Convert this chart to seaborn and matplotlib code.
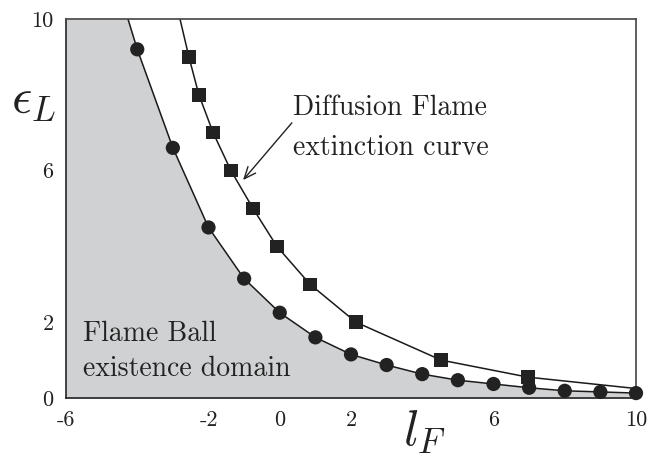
import matplotlib
matplotlib.use("Agg")
import matplotlib.pyplot as plt
import seaborn as sns
import pandas as pd

# Flame ball existence boundary (circles)
fb_lf = [-4, -3, -2, -1, 0, 1, 2, 3, 4, 5, 6, 7, 8, 9, 10]
fb_eps = [9.2, 6.6, 4.5, 3.15, 2.25, 1.6, 1.15, 0.87, 0.63, 0.47, 0.37, 0.27, 0.19, 0.16, 0.13]
# Diffusion flame extinction curve (squares)
df_lf = [-2.55, -2.27, -1.87, -1.37, -0.75, -0.08, 0.85, 2.14, 4.53, 6.97]
df_eps = [9.0, 8.0, 7.0, 6.0, 5.0, 4.0, 3.0, 2.0, 1.0, 0.55]
# curve ends read where the lines leave the frame
fb_curve_lf = [-4.26] + fb_lf
fb_curve_eps = [10.0] + fb_eps
df_curve_lf = [-2.8] + df_lf + [10.0]
df_curve_eps = [10.0] + df_eps + [0.25]

xticks = [-6, -2, 0, 2, 6, 10]
yticks = [0, 2, 6, 10]

sns.set_theme(style="white")
plt.rcParams["font.family"] = ["cmr10", "DejaVu Serif"]
plt.rcParams["mathtext.fontset"] = "cm"

fig = plt.figure(figsize=(6.5, 4.59), dpi=100)
ax = fig.add_axes([66/650, 1-398/459, 570/650, 379/459])

fill_x = [-6.0] + fb_curve_lf
fill_y = [10.0] + fb_curve_eps
ax.fill_between(fill_x, 0, fill_y, color="#d0d1d3", lw=0, zorder=0)

dfc = pd.DataFrame({"lf": fb_curve_lf, "eps": fb_curve_eps})
sns.lineplot(data=dfc, x="lf", y="eps", ax=ax, color="#1a1a1a", lw=1.1, sort=False, zorder=2)
dsc = pd.DataFrame({"lf": df_curve_lf, "eps": df_curve_eps})
sns.lineplot(data=dsc, x="lf", y="eps", ax=ax, color="#1a1a1a", lw=1.1, sort=False, zorder=2)

sq = pd.DataFrame({"lf": df_lf, "eps": df_eps})
sns.scatterplot(data=sq, x="lf", y="eps", ax=ax, marker="s", s=95, color="#222222",
                edgecolor="none", zorder=3, clip_on=False)
ci = pd.DataFrame({"lf": fb_lf, "eps": fb_eps})
sns.scatterplot(data=ci, x="lf", y="eps", ax=ax, marker="o", s=105, color="#222222",
                edgecolor="none", zorder=4, clip_on=False)

ax.set_xlim(-6, 10)
ax.set_ylim(0, 10)
ax.set_xticks(xticks)
ax.set_xticklabels([str(t) for t in xticks])
ax.set_yticks(yticks)
ax.set_yticklabels([str(t) for t in yticks])
ax.tick_params(axis="both", length=0, labelsize=16, colors="#222222")
ax.tick_params(axis="x", pad=9)
ax.tick_params(axis="y", pad=9)
ax.set_xlabel("")
ax.set_ylabel("")
for side, sp in ax.spines.items():
    sp.set_linewidth(1.2)
    sp.set_color("#444444" if side in ("top", "right") else "#222222")

ax.text(-5.52, 1.5, "Flame Ball", fontsize=20, color="#222222", va="baseline", ha="left")
ax.text(-5.52, 0.58, "existence domain", fontsize=20, color="#222222", va="baseline", ha="left")
ax.text(0.37, 7.47, "Diffusion Flame", fontsize=20, color="#222222", va="baseline", ha="left")
ax.text(0.37, 6.41, "extinction curve", fontsize=20, color="#222222", va="baseline", ha="left")
ax.annotate("", xy=(-1.03, 5.75), xytext=(0.34, 7.26),
            arrowprops=dict(arrowstyle="->,head_length=0.7,head_width=0.3", color="#222222",
                            lw=1.0, shrinkA=0, shrinkB=0))

fig.text(33/650, 1-100/459, r"$\epsilon_L$", fontsize=36, color="#222222", ha="center", va="center")
fig.text(425/650, 1-432/459, r"$l_F$", fontsize=36, color="#222222", ha="center", va="center")

fig.savefig("out.png", dpi=100)
